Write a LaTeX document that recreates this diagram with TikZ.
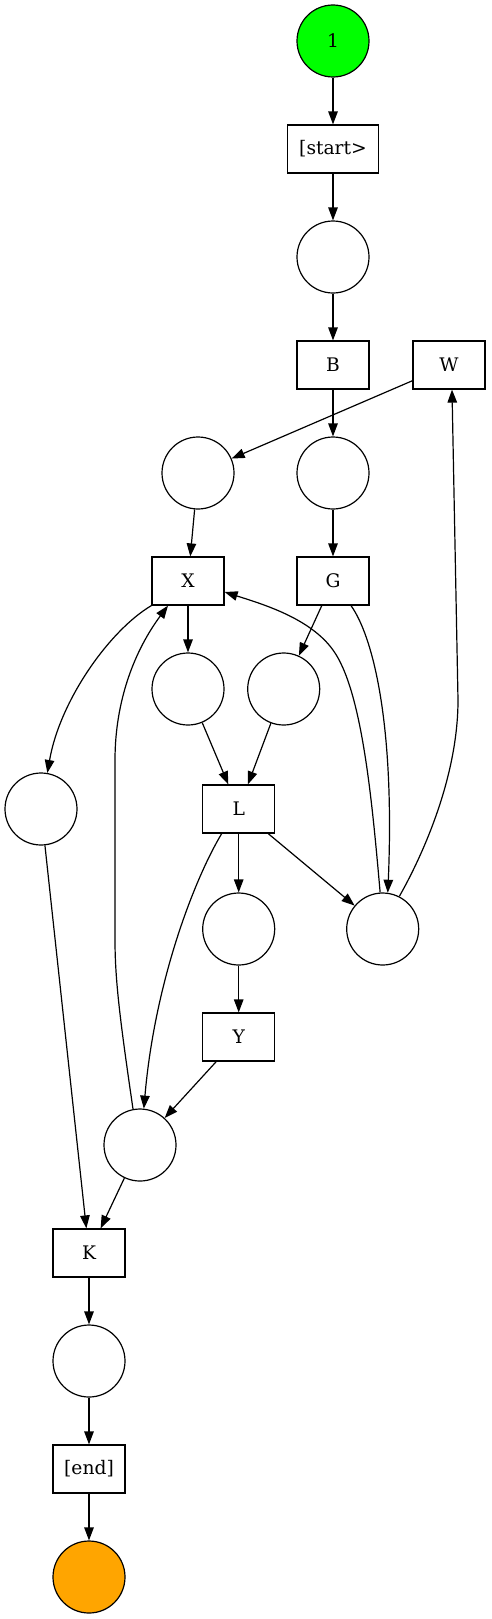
\documentclass[tikz,border=0pt]{standalone}
\usepackage{fontspec}
\setmainfont{DejaVu Serif}
\usetikzlibrary{arrows.meta}
\definecolor{pgreen}{HTML}{00FF00}
\definecolor{porange}{HTML}{FFA500}
\begin{document}
\begin{tikzpicture}[x=1pt,y=-1pt,
  every node/.style={font=\fontsize{18.67}{22}\selectfont},
  place/.style={circle,draw,line width=1.2pt,minimum size=72pt,inner sep=0pt},
  trans/.style={rectangle,draw,line width=1.2pt,minimum width=72pt,minimum height=48pt,inner sep=0pt},
  arc/.style={line width=1.2pt,-{Triangle[length=13pt,width=9.5pt]}}]
\useasboundingbox (0,0) rectangle (491,1619);
\node[place,fill=pgreen] (src) at (333,41) {1};
\node[trans,minimum width=91pt] (tstart) at (333,149) {[start>};
\node[place] (p1) at (333,257) {};
\node[trans] (tB) at (333,365) {B};
\node[trans] (tW) at (449,365) {W};
\node[place] (pa) at (198,473) {};
\node[place] (pb) at (333,473) {};
\node[trans] (tX) at (188,581) {X};
\node[trans] (tG) at (333,581) {G};
\node[place] (pc) at (188,689) {};
\node[place] (pd) at (283.7,689) {};
\node[trans] (tL) at (238.7,809) {L};
\node[place] (pe) at (41,809) {};
\node[place] (pf) at (238.7,929) {};
\node[place] (pg) at (382.7,929) {};
\node[trans] (tY) at (238.7,1037) {Y};
\node[place] (ph) at (140,1145) {};
\node[trans] (tK) at (89,1253) {K};
\node[place] (pi) at (89,1361) {};
\node[trans] (tend) at (89,1469) {[end]};
\node[place,fill=porange] (sink) at (89,1577) {};

\draw[arc] (src) -- (tstart);
\draw[arc] (tstart) -- (p1);
\draw[arc] (p1) -- (tB);
\draw[arc] (tB) -- (pb);
\draw[arc] (tW) -- (pa);
\draw[arc] (pa) -- (tX);
\draw[arc] (pb) -- (tG);
\draw[arc] (tX) -- (pc);
\draw[arc] (tG) -- (pd);
\draw[arc] ([xshift=18pt]tG.south) .. controls (372,635) and (395,720) .. (pg.82);
\draw[arc] (pc) -- (tL);
\draw[arc] (pd) -- (tL);
\draw[arc] (tX.south west) .. controls (110,630) and (60,700) .. (pe.80);
\draw[arc] (pg.94) .. controls (372,800) and (362,690) .. (333,650) .. controls (310,618) and (262,604) .. ([yshift=-11pt]tX.east);
\draw[arc] (pg.63) .. controls (420,860) and (458,780) .. (458,700) -- ([xshift=3pt]tW.south);
\draw[arc] (tL) -- (pg);
\draw[arc] (tL) -- (pf);
\draw[arc] ([xshift=-17pt]tL.south) .. controls (195,878) and (155,980) .. (ph.84);
\draw[arc] (pf) -- (tY);
\draw[arc] (tY) -- (ph);
\draw[arc] (ph.101) .. controls (120,1020) and (115,980) .. (115,940) -- (115,760) .. controls (115,700) and (135,650) .. ([xshift=-20pt]tX.south);
\draw[arc] (pe) -- (tK);
\draw[arc] (ph) -- (tK);
\draw[arc] (tK) -- (pi);
\draw[arc] (pi) -- (tend);
\draw[arc] (tend) -- (sink);
\end{tikzpicture}
\end{document}
